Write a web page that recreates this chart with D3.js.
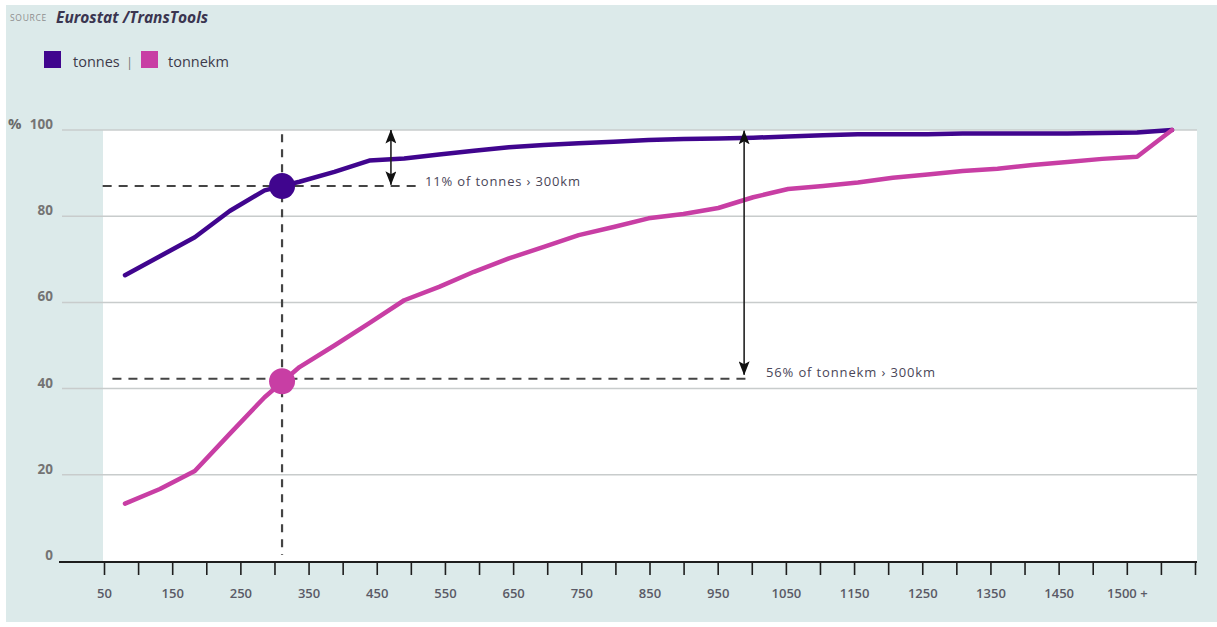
<!DOCTYPE html>
<html>
<head>
<meta charset="utf-8">
<script src="https://cdn.jsdelivr.net/npm/d3@7"></script>
<style>
  html, body { margin: 0; padding: 0; background: #ffffff; }
  svg { display: block; }
</style>
</head>
<body>
<svg id="chart" width="1217" height="627"></svg>
<script>
// ---------------- data ----------------
const distancesKm = [75,125,175,225,275,325,375,425,475,525,575,625,675,725,775,825,875,925,975,1025,1075,1125,1175,1225,1275,1325,1375,1425,1475,1525,1575];
const tonnesPct   = [66.3,70.7,75.1,81.2,86.0,88.0,90.3,92.9,93.4,94.3,95.2,96.0,96.5,96.9,97.3,97.7,97.9,98.0,98.2,98.5,98.8,99.0,99.0,99.0,99.2,99.2,99.2,99.2,99.3,99.4,100];
const tonnekmPct  = [13.3,16.7,20.9,29.5,38.0,45.0,50.0,55.2,60.5,63.6,67.1,70.2,72.9,75.6,77.5,79.5,80.5,81.9,84.4,86.3,87.0,87.8,88.9,89.7,90.5,91.0,91.9,92.6,93.3,93.8,100];

const seriesNames  = ["tonnes", "tonnekm"];
const seriesColors = ["#40058e", "#c83ea4"];

const axisTickKm = [50,100,150,200,250,300,350,400,450,500,550,600,650,700,750,800,850,900,950,1000,1050,1100,1150,1200,1250,1300,1350,1400,1450,1500,1550,1600,1650];
const axisTickLabels = ["50","","150","","250","","350","","450","","550","","650","","750","","850","","950","","1050","","1150","","1250","","1350","","1450","","1500 +","",""];

const yTicks = [0,20,40,60,80,100];
const yTickLabels = ["0","20","40","60","80","100"];
const yUnit = "%";

// annotation values
const markerKm = 300;
const markerTonnes = 87.0;
const markerTonnekm = 41.7;
const refTonnes = 87.0;
const refTonnekm = 42.3;
const noteTonnes = "11% of tonnes \u203A 300km";
const noteTonnekm = "56% of tonnekm \u203A 300km";

// ---------------- layout ----------------
const svg = d3.select("#chart");
const W = 1217, H = 627;
const plot = {left: 103, right: 1197, top: 130, bottom: 561};

svg.append("rect").attr("x", 0).attr("y", 0).attr("width", W).attr("height", H).attr("fill", "#ffffff");
svg.append("rect").attr("x", 6).attr("y", 5).attr("width", W - 6).attr("height", 617).attr("fill", "#dceaea");
svg.append("rect").attr("x", plot.left).attr("y", plot.top)
   .attr("width", plot.right - plot.left).attr("height", plot.bottom - plot.top).attr("fill", "#ffffff");

const y = d3.scaleLinear().domain([0, 100]).range([561, 130]);
const xAxisScale = d3.scaleLinear().domain([50, 1650]).range([104, 1195]);
const xData = d3.scaleLinear().domain([75, 1575]).range([125, 1172]);

const fontMain = "'Open Sans', 'Noto Sans', 'DejaVu Sans', sans-serif";

// gridlines
svg.append("g").selectAll("line").data(yTicks.filter(d => d > 0)).join("line")
  .attr("x1", 62).attr("x2", plot.right)
  .attr("y1", d => y(d)).attr("y2", d => y(d))
  .attr("stroke", "#c8cccc").attr("stroke-width", 1.5);

// y labels
svg.append("g").selectAll("text").data(yTicks).join("text")
  .attr("x", 53).attr("y", d => y(d) - 1)
  .attr("text-anchor", "end")
  .attr("font-family", fontMain).attr("font-size", 13.5).attr("font-weight", "bold")
  .attr("fill", "#747474")
  .text((d, i) => yTickLabels[i]);
svg.append("text").attr("x", 8).attr("y", y(100) - 1)
  .attr("font-family", fontMain).attr("font-size", 15).attr("font-weight", "bold")
  .attr("fill", "#6a6a6a").text(yUnit);

// x axis
svg.append("line").attr("x1", 59).attr("x2", plot.right).attr("y1", 562).attr("y2", 562)
  .attr("stroke", "#1e1e1e").attr("stroke-width", 2);
const xAxis = d3.axisBottom(xAxisScale).tickValues(axisTickKm).tickSize(13)
  .tickFormat((d, i) => axisTickLabels[i]);
const gx = svg.append("g").attr("transform", "translate(0,562)").call(xAxis);
gx.select(".domain").remove();
gx.selectAll(".tick line").attr("stroke", "#1e1e1e").attr("stroke-width", 1.6);
gx.selectAll(".tick text").attr("y", 31).attr("dy", "0.35em")
  .attr("font-family", fontMain).attr("font-size", 13).attr("font-weight", "600")
  .attr("fill", "#5a5a66");

// dashed reference lines
const dash = "9,7";
const dashColor = "#444444";
svg.append("line")
  .attr("x1", xData(43)).attr("x2", xData(493))
  .attr("y1", y(refTonnes)).attr("y2", y(refTonnes))
  .attr("stroke", dashColor).attr("stroke-width", 2).attr("stroke-dasharray", dash);
svg.append("line")
  .attr("x1", xData(57)).attr("x2", xData(970))
  .attr("y1", y(refTonnekm)).attr("y2", y(refTonnekm))
  .attr("stroke", dashColor).attr("stroke-width", 2).attr("stroke-dasharray", dash);
svg.append("line")
  .attr("x1", xData(markerKm)).attr("x2", xData(markerKm))
  .attr("y1", y(99)).attr("y2", y(1.4))
  .attr("stroke", dashColor).attr("stroke-width", 2.2).attr("stroke-dasharray", "8,7");

// series lines
const series = [tonnesPct, tonnekmPct];
const line = d3.line().x(d => xData(d.km)).y(d => y(d.v)).curve(d3.curveLinear);
series.forEach((vals, s) => {
  const pts = distancesKm.map((km, i) => ({km, v: vals[i]}));
  svg.append("path").datum(pts)
    .attr("d", line)
    .attr("fill", "none")
    .attr("stroke", seriesColors[s])
    .attr("stroke-width", 4.5)
    .attr("stroke-linecap", "round")
    .attr("stroke-linejoin", "round");
});

// markers
svg.append("circle").attr("cx", xData(markerKm)).attr("cy", y(markerTonnes)).attr("r", 13).attr("fill", seriesColors[0]);
svg.append("circle").attr("cx", xData(markerKm)).attr("cy", y(markerTonnekm)).attr("r", 13).attr("fill", seriesColors[1]);

// arrows
const defs = svg.append("defs");
defs.append("marker").attr("id", "arr").attr("viewBox", "0 0 14 11")
  .attr("refX", 13.5).attr("refY", 5.5).attr("markerWidth", 14).attr("markerHeight", 11)
  .attr("markerUnits", "userSpaceOnUse").attr("orient", "auto-start-reverse")
  .append("path").attr("d", "M0,0 L14,5.5 L0,11 L3,5.5 Z").attr("fill", "#111");

svg.append("line")
  .attr("x1", xData(456)).attr("x2", xData(456))
  .attr("y1", y(100)).attr("y2", y(87.3))
  .attr("stroke", "#222").attr("stroke-width", 1.6)
  .attr("marker-start", "url(#arr)").attr("marker-end", "url(#arr)");
svg.append("line")
  .attr("x1", xData(962)).attr("x2", xData(962))
  .attr("y1", y(99.8)).attr("y2", y(43.2))
  .attr("stroke", "#222").attr("stroke-width", 1.6)
  .attr("marker-start", "url(#arr)").attr("marker-end", "url(#arr)");

// annotation texts
svg.append("text").attr("x", 425).attr("y", 186)
  .attr("font-family", fontMain).attr("font-size", 13).attr("fill", "#4a4658")
  .attr("textLength", 155).attr("lengthAdjust", "spacing")
  .text(noteTonnes);
svg.append("text").attr("x", 766).attr("y", 377)
  .attr("font-family", fontMain).attr("font-size", 13).attr("fill", "#4a4658")
  .attr("textLength", 169).attr("lengthAdjust", "spacing")
  .text(noteTonnekm);

// source
svg.append("text").attr("x", 10).attr("y", 21)
  .attr("font-family", fontMain).attr("font-size", 8.5).attr("letter-spacing", 0.7)
  .attr("fill", "#8e8e8e").text("SOURCE");
svg.append("text").attr("x", 56).attr("y", 23)
  .attr("font-family", fontMain).attr("font-size", 15.5).attr("font-weight", "bold").attr("font-style", "italic")
  .attr("fill", "#3a3550").text("Eurostat /TransTools");

// legend
const legendX = [44, 141];
const legendTextX = [73, 168];
seriesNames.forEach((name, i) => {
  svg.append("rect").attr("x", legendX[i]).attr("y", 51).attr("width", 17).attr("height", 17).attr("fill", seriesColors[i]);
  svg.append("text").attr("x", legendTextX[i]).attr("y", 67)
    .attr("font-family", fontMain).attr("font-size", 14.5).attr("fill", "#3d3a4a").text(name);
});
svg.append("text").attr("x", 126).attr("y", 67)
  .attr("font-family", fontMain).attr("font-size", 13).attr("fill", "#777777").text("|");
</script>
</body>
</html>
